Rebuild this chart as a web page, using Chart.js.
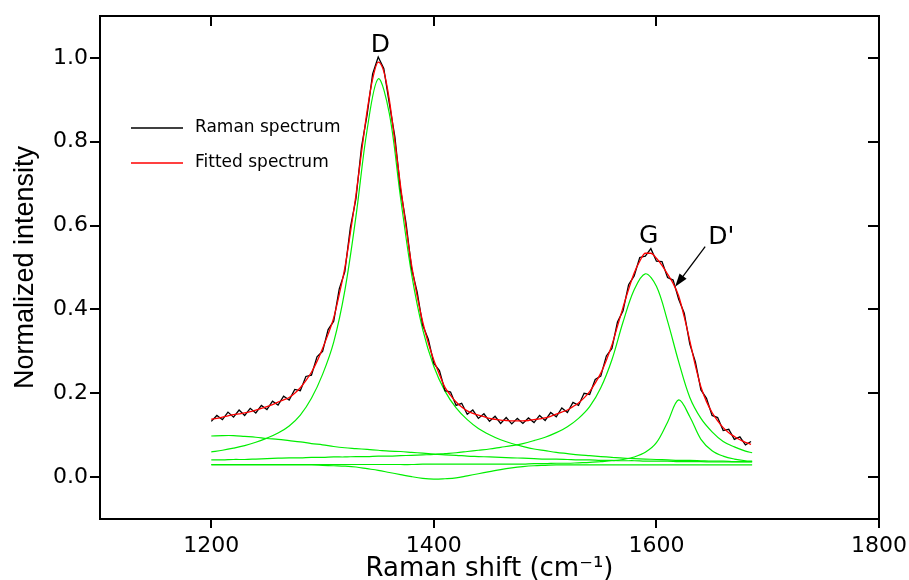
<!DOCTYPE html>
<html>
<head>
<meta charset="utf-8">
<script src="https://cdn.jsdelivr.net/npm/chart.js@4.4.0/dist/chart.umd.min.js"></script>
<style>
  html, body { margin: 0; padding: 0; background: #fff; }
  #wrap { width: 909px; height: 580px; }
</style>
</head>
<body>
<div id="wrap"><canvas id="ramanChart"></canvas></div>
<script>
// Raman shift (cm-1) of the measured spectrum
const shift = [
  1200, 1205, 1210, 1215, 1220, 1225, 1230, 1235, 1240, 1245,
  1250, 1255, 1260, 1265, 1270, 1275, 1280, 1285, 1290, 1295,
  1300, 1305, 1310, 1315, 1320, 1325, 1330, 1335, 1340, 1345,
  1350, 1355, 1360, 1365, 1370, 1375, 1380, 1385, 1390, 1395,
  1400, 1405, 1410, 1415, 1420, 1425, 1430, 1435, 1440, 1445,
  1450, 1455, 1460, 1465, 1470, 1475, 1480, 1485, 1490, 1495,
  1500, 1505, 1510, 1515, 1520, 1525, 1530, 1535, 1540, 1545,
  1550, 1555, 1560, 1565, 1570, 1575, 1580, 1585, 1590, 1595,
  1600, 1605, 1610, 1615, 1620, 1625, 1630, 1635, 1640, 1645,
  1650, 1655, 1660, 1665, 1670, 1675, 1680, 1685
];

// measured spectrum (black)
const rawSpectrum = [
  0.133, 0.147, 0.137, 0.155, 0.143, 0.160, 0.147, 0.164, 0.153, 0.171,
  0.161, 0.181, 0.172, 0.193, 0.184, 0.209, 0.206, 0.240, 0.243, 0.287,
  0.300, 0.352, 0.372, 0.449, 0.490, 0.596, 0.664, 0.788, 0.864, 0.962,
  1.002, 0.975, 0.891, 0.811, 0.687, 0.606, 0.498, 0.441, 0.362, 0.329,
  0.271, 0.254, 0.206, 0.203, 0.171, 0.176, 0.150, 0.160, 0.140, 0.151,
  0.133, 0.145, 0.128, 0.142, 0.127, 0.140, 0.128, 0.141, 0.130, 0.147,
  0.135, 0.154, 0.144, 0.165, 0.154, 0.178, 0.171, 0.200, 0.197, 0.233,
  0.241, 0.289, 0.307, 0.370, 0.397, 0.459, 0.480, 0.524, 0.527, 0.545,
  0.515, 0.514, 0.476, 0.470, 0.424, 0.391, 0.317, 0.275, 0.208, 0.188,
  0.147, 0.142, 0.111, 0.114, 0.090, 0.096, 0.077, 0.085
];

// cumulative fit (red)
const fittedSpectrum = [
  0.138, 0.140, 0.143, 0.146, 0.149, 0.151, 0.153, 0.156, 0.160, 0.164,
  0.168, 0.173, 0.179, 0.184, 0.190, 0.200, 0.213, 0.230, 0.250, 0.276,
  0.307, 0.341, 0.380, 0.436, 0.499, 0.583, 0.673, 0.775, 0.873, 0.950,
  0.990, 0.968, 0.900, 0.800, 0.696, 0.596, 0.506, 0.432, 0.370, 0.320,
  0.279, 0.245, 0.214, 0.195, 0.179, 0.167, 0.158, 0.152, 0.148, 0.144,
  0.140, 0.138, 0.136, 0.135, 0.134, 0.134, 0.134, 0.135, 0.137, 0.139,
  0.141, 0.145, 0.150, 0.155, 0.160, 0.168, 0.177, 0.189, 0.204, 0.224,
  0.248, 0.279, 0.315, 0.360, 0.405, 0.448, 0.487, 0.515, 0.534, 0.534,
  0.522, 0.505, 0.484, 0.462, 0.432, 0.382, 0.325, 0.266, 0.215, 0.180,
  0.154, 0.134, 0.118, 0.106, 0.097, 0.089, 0.083, 0.078
];

// x positions of the fitted bands (green)
const fitShift = [
  1200, 1210, 1220, 1230, 1240, 1250, 1260, 1270, 1280, 1290,
  1300, 1310, 1320, 1330, 1340, 1350, 1360, 1370, 1380, 1390,
  1400, 1410, 1420, 1430, 1440, 1450, 1460, 1470, 1480, 1490,
  1500, 1510, 1520, 1530, 1540, 1550, 1560, 1570, 1580, 1590,
  1600, 1610, 1620, 1630, 1640, 1650, 1660, 1670, 1680, 1686
];

const bandD = [
  0.060, 0.064, 0.069, 0.075, 0.083, 0.093, 0.105, 0.122, 0.148, 0.188,
  0.245, 0.322, 0.445, 0.622, 0.828, 0.950, 0.867, 0.668, 0.484, 0.352,
  0.264, 0.205, 0.165, 0.137, 0.116, 0.101, 0.089, 0.080, 0.073, 0.067,
  0.063, 0.059, 0.056, 0.053, 0.051, 0.049, 0.047, 0.045, 0.044, 0.043,
  0.042, 0.041, 0.040, 0.040, 0.039, 0.038, 0.038, 0.037, 0.037, 0.037
];

const bandG = [
  0.041, 0.041, 0.042, 0.042, 0.043, 0.044, 0.045, 0.046, 0.046, 0.047,
  0.047, 0.048, 0.048, 0.049, 0.049, 0.050, 0.050, 0.051, 0.052, 0.053,
  0.054, 0.056, 0.058, 0.061, 0.064, 0.067, 0.071, 0.075, 0.080, 0.087,
  0.095, 0.106, 0.120, 0.140, 0.168, 0.213, 0.280, 0.370, 0.447, 0.485,
  0.455, 0.372, 0.275, 0.190, 0.140, 0.108, 0.085, 0.072, 0.062, 0.058
];

const bandDprime = [
  0.030, 0.030, 0.030, 0.030, 0.030, 0.030, 0.030, 0.030, 0.030, 0.030,
  0.030, 0.030, 0.030, 0.030, 0.030, 0.030, 0.030, 0.030, 0.030, 0.031,
  0.031, 0.031, 0.031, 0.031, 0.031, 0.031, 0.031, 0.031, 0.031, 0.032,
  0.032, 0.033, 0.033, 0.034, 0.035, 0.037, 0.039, 0.042, 0.048, 0.059,
  0.082, 0.131, 0.184, 0.144, 0.090, 0.063, 0.050, 0.043, 0.039, 0.038
];

const bandD4 = [
  0.098, 0.099, 0.099, 0.097, 0.095, 0.092, 0.090, 0.087, 0.084, 0.080,
  0.077, 0.073, 0.070, 0.068, 0.066, 0.064, 0.062, 0.061, 0.059, 0.057,
  0.055, 0.053, 0.052, 0.050, 0.049, 0.048, 0.047, 0.046, 0.045, 0.044,
  0.043, 0.043, 0.042, 0.041, 0.041, 0.040, 0.040, 0.039, 0.039, 0.038,
  0.038, 0.038, 0.037, 0.037, 0.037, 0.036, 0.036, 0.036, 0.036, 0.036
];

const bandDip = [
  0.029, 0.029, 0.029, 0.029, 0.029, 0.029, 0.029, 0.029, 0.029, 0.029,
  0.028, 0.027, 0.026, 0.024, 0.020, 0.016, 0.011, 0.006, 0.001, -0.003,
  -0.005, -0.004, -0.002, 0.003, 0.008, 0.013, 0.018, 0.022, 0.025, 0.027,
  0.028, 0.029, 0.029, 0.029, 0.029, 0.029, 0.029, 0.029, 0.029, 0.029,
  0.029, 0.029, 0.029, 0.029, 0.029, 0.029, 0.029, 0.029, 0.029, 0.029
];

const xTickLabels = ['1200', '1400', '1600', '1800'];
const yTickLabels = ['0.0', '0.2', '0.4', '0.6', '0.8', '1.0'];
const legendOrder = ['Raman spectrum', 'Fitted spectrum'];

// peak names, placed in data units
const peakLabels = [
  { text: 'D', x: 1352, y: 1.03, align: 'center' },
  { text: 'G', x: 1593, y: 0.573, align: 'center' },
  { text: "D'", x: 1646.5, y: 0.571, align: 'left' }
];
const arrowFrom = [1643.8, 0.550];
const arrowTo = [1616.8, 0.454];

const toPoints = (xs, ys) => xs.map((x, i) => ({ x: x, y: ys[i] }));

const GREEN = '#00ee00';
const bands = [bandD, bandG, bandDprime, bandD4, bandDip];

const datasets = [
  {
    label: 'Fitted spectrum',
    data: toPoints(shift, fittedSpectrum),
    borderColor: '#ff0000',
    borderWidth: 1.3,
    cubicInterpolationMode: 'monotone'
  },
  {
    label: 'Raman spectrum',
    data: toPoints(shift, rawSpectrum),
    borderColor: '#000000',
    borderWidth: 1.3,
    tension: 0
  }
];
bands.forEach((band, i) => {
  datasets.push({
    label: 'band' + i,
    data: toPoints(fitShift, band),
    borderColor: GREEN,
    borderWidth: 1.2,
    tension: 0.35
  });
});

// tick marks: outward on bottom/left, inward on top/right
const tickMarks = {
  id: 'tickMarks',
  afterDraw(chart) {
    const { ctx, chartArea: a, scales } = chart;
    ctx.save();
    ctx.strokeStyle = '#000';
    ctx.lineWidth = 2;
    ctx.beginPath();
    scales.x.ticks.forEach((t) => {
      const px = Math.round(scales.x.getPixelForValue(t.value));
      const len = t.label ? 9 : 5;
      ctx.moveTo(px, a.bottom);
      ctx.lineTo(px, a.bottom + len);
      ctx.moveTo(px, a.top);
      ctx.lineTo(px, a.top + len + 1);
    });
    scales.y.ticks.forEach((t) => {
      const py = Math.round(scales.y.getPixelForValue(t.value));
      const len = t.label ? 10 : 5;
      ctx.moveTo(a.left, py);
      ctx.lineTo(a.left - len, py);
      ctx.moveTo(a.right, py);
      ctx.lineTo(a.right - len - 1, py);
    });
    ctx.stroke();
    ctx.restore();
  }
};

// legend inside the plot, peak names and the D' arrow
const annotate = {
  id: 'annotate',
  afterDraw(chart) {
    const { ctx, chartArea: a, scales: { x, y } } = chart;
    ctx.save();
    ctx.font = '17px "DejaVu Sans"';
    ctx.textAlign = 'left';
    ctx.textBaseline = 'middle';
    legendOrder.forEach((name, i) => {
      const ds = chart.data.datasets.find((d) => d.label === name);
      const ly = a.top + 112 + i * 35;
      ctx.strokeStyle = ds.borderColor;
      ctx.lineWidth = 1.3;
      ctx.beginPath();
      ctx.moveTo(a.left + 31, ly);
      ctx.lineTo(a.left + 83, ly);
      ctx.stroke();
      ctx.fillStyle = '#000';
      ctx.fillText(name, a.left + 95, ly);
    });

    ctx.font = '25px "DejaVu Sans"';
    peakLabels.forEach((p) => {
      ctx.textAlign = p.align;
      ctx.fillText(p.text, x.getPixelForValue(p.x), y.getPixelForValue(p.y));
    });

    const x0 = x.getPixelForValue(arrowFrom[0]);
    const y0 = y.getPixelForValue(arrowFrom[1]);
    const x1 = x.getPixelForValue(arrowTo[0]);
    const y1 = y.getPixelForValue(arrowTo[1]);
    const ang = Math.atan2(y1 - y0, x1 - x0);
    const head = 14;
    ctx.strokeStyle = '#000';
    ctx.lineWidth = 1.3;
    ctx.beginPath();
    ctx.moveTo(x0, y0);
    ctx.lineTo(x1 - Math.cos(ang) * head * 0.8, y1 - Math.sin(ang) * head * 0.8);
    ctx.stroke();
    ctx.fillStyle = '#000';
    ctx.beginPath();
    ctx.moveTo(x1, y1);
    ctx.lineTo(x1 - head * Math.cos(ang - 0.32), y1 - head * Math.sin(ang - 0.32));
    ctx.lineTo(x1 - head * Math.cos(ang + 0.32), y1 - head * Math.sin(ang + 0.32));
    ctx.closePath();
    ctx.fill();
    ctx.restore();
  }
};

Chart.defaults.color = '#000';
Chart.defaults.font.family = '"DejaVu Sans"';

const plainGrid = { display: true, drawOnChartArea: false, drawTicks: false };
const axisBorder = { display: true, color: '#000', width: 2 };

new Chart(document.getElementById('ramanChart'), {
  type: 'line',
  data: { datasets: datasets },
  options: {
    responsive: true,
    maintainAspectRatio: false,
    animation: false,
    layout: { padding: 0 },
    elements: { point: { radius: 0 } },
    plugins: {
      legend: { display: false },
      tooltip: { enabled: false }
    },
    scales: {
      x: {
        type: 'linear',
        position: 'bottom',
        min: 1100,
        max: 1800,
        grid: plainGrid,
        border: axisBorder,
        ticks: {
          stepSize: 100,
          autoSkip: false,
          maxRotation: 0,
          padding: 0,
          font: { size: 22, lineHeight: 2.5 },
          callback: (v) => (xTickLabels.includes(String(v)) ? String(v) : null)
        },
        title: {
          display: true,
          text: 'Raman shift (cm⁻¹)',
          font: { size: 26, lineHeight: 1 },
          padding: { top: 0, bottom: -2 }
        },
        afterFit: (s) => { s.height = 61; }
      },
      x2: {
        type: 'linear',
        position: 'top',
        min: 1100,
        max: 1800,
        grid: plainGrid,
        border: axisBorder,
        ticks: { display: false, stepSize: 100 },
        afterFit: (s) => { s.height = 16; }
      },
      y: {
        type: 'linear',
        position: 'left',
        min: -0.1,
        max: 1.1,
        // invisible tick length keeps the labels clear of the axis
        grid: {
          display: true,
          drawOnChartArea: false,
          drawTicks: true,
          tickLength: 9,
          tickColor: 'rgba(0,0,0,0)'
        },
        border: axisBorder,
        ticks: {
          stepSize: 0.1,
          autoSkip: false,
          padding: 3,
          font: { size: 22, lineHeight: 1.1 },
          callback: (v) => {
            const lbl = (Math.round(v * 10) / 10).toFixed(1);
            return yTickLabels.includes(lbl) ? lbl : null;
          }
        },
        title: {
          display: true,
          text: 'Normalized intensity',
          font: { family: '"Liberation Sans"', size: 27, lineHeight: 1 },
          padding: { top: 12, bottom: 0 }
        },
        afterFit: (s) => { s.width = 100; }
      },
      y2: {
        type: 'linear',
        position: 'right',
        min: -0.1,
        max: 1.1,
        grid: plainGrid,
        border: axisBorder,
        ticks: { display: false, stepSize: 0.1 },
        afterFit: (s) => { s.width = 30; }
      }
    }
  },
  plugins: [tickMarks, annotate]
});
</script>
</body>
</html>
